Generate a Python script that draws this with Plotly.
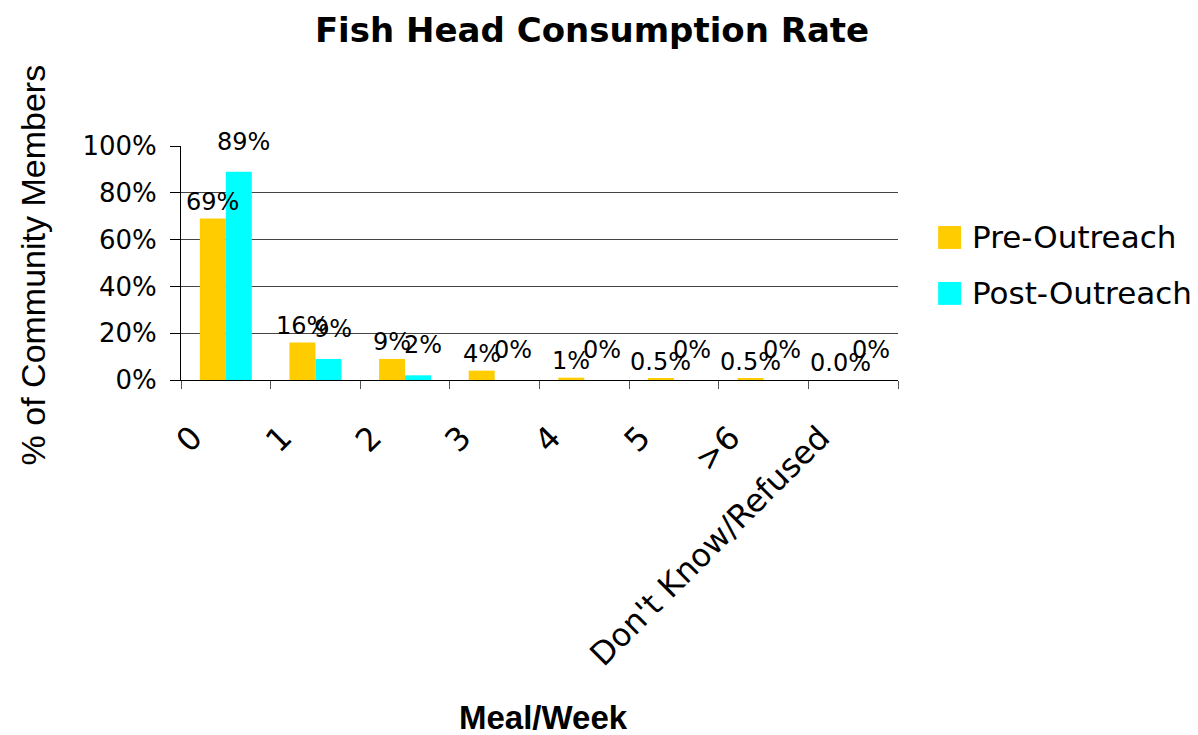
import plotly.graph_objects as go

# Données
categories = ["0", "1", "2", "3", "4", "5", ">6", "Don't Know/Refused"]
pre_vals = [0.69, 0.16, 0.09, 0.04, 0.01, 0.005, 0.005, 0.0]
post_vals = [0.89, 0.09, 0.02, 0.0, 0.0, 0.0, 0.0, 0.0]
pre_labels = ["69%", "16%", "9%", "4%", "1%", "0.5%", "0.5%", "0.0%"]
post_labels = ["89%", "9%", "2%", "0%", "0%", "0%", "0%", "0%"]
series_names = ["Pre-Outreach", "Post-Outreach"]
y_ticks = [0, 0.2, 0.4, 0.6, 0.8, 1.0]

GOLD = "#FFCC00"
CYAN = "#00FFFF"
FONT = "DejaVu Sans"

fig = go.Figure()
fig.add_trace(go.Bar(name=series_names[0], x=categories, y=pre_vals,
                     marker=dict(color=GOLD, line=dict(width=0))))
fig.add_trace(go.Bar(name=series_names[1], x=categories, y=post_vals,
                     marker=dict(color=CYAN, line=dict(width=0))))

# Étiquettes de valeurs (au-dessus des barres, façon Excel)
annots = []
for cat, v, t in zip(categories, pre_vals, pre_labels):
    annots.append(dict(x=cat, y=v, text=t, showarrow=False, xshift=-13, yshift=17,
                       yanchor="middle", font=dict(family=FONT, size=24, color="black")))
for cat, v, t in zip(categories, post_vals, post_labels):
    annots.append(dict(x=cat, y=v, text=t, showarrow=False, xshift=18, yshift=30,
                       yanchor="middle", font=dict(family=FONT, size=24, color="black")))

# Titres des axes
annots.append(dict(xref="paper", yref="paper", x=0.505, y=-1.444, text="<b>Meal/Week</b>",
                   showarrow=False, xanchor="center", yanchor="middle",
                   font=dict(family="Liberation Sans", size=33, color="black")))
annots.append(dict(xref="paper", yref="paper", x=-0.206, y=0.491, text="% of Community Members",
                   showarrow=False, xanchor="center", yanchor="middle", textangle=-90,
                   font=dict(family="Liberation Sans", size=34, color="black")))

# Légende dessinée à la main (la légende native pousse la marge à droite)
shapes = []
for nom, coul, y0, y1, yt in [(series_names[0], GOLD, 0.560, 0.658, 0.611),
                              (series_names[1], CYAN, 0.321, 0.419, 0.372)]:
    shapes.append(dict(type="rect", xref="paper", yref="paper", x0=1.056, x1=1.088,
                       y0=y0, y1=y1, fillcolor=coul, line=dict(width=0)))
    annots.append(dict(xref="paper", yref="paper", x=1.100, y=yt, text=nom, showarrow=False,
                       xanchor="left", yanchor="middle",
                       font=dict(family=FONT, size=31, color="black")))

fig.update_layout(
    width=1198, height=735,
    margin=dict(l=173, r=308, t=138, b=363),
    paper_bgcolor="white", plot_bgcolor="white",
    barmode="group", bargap=0.42, bargroupgap=0,
    title=dict(text="<b>Fish Head Consumption Rate</b>", x=0.4875, xanchor="center",
               y=0.970, yanchor="middle", font=dict(family=FONT, size=34, color="black")),
    font=dict(family=FONT, size=24, color="black"),
    showlegend=False,
    annotations=annots,
    shapes=shapes,
    xaxis=dict(
        type="category", tickangle=-45, ticks="outside", ticklen=8, tickcolor="#555",
        tickson="boundaries", showline=True, linecolor="black", linewidth=1,
        showgrid=False, tickfont=dict(family=FONT, size=32, color="black"),
        ticklabelstandoff=25, ticklabelshift=-33,
    ),
    yaxis=dict(
        range=[0, 1], tickvals=y_ticks, tickformat=".0%", ticks="outside", ticklen=10,
        tickcolor="black", showline=True, linecolor="black", linewidth=1,
        showgrid=True, gridcolor="#444", gridwidth=1, zeroline=False,
        tickfont=dict(family=FONT, size=26, color="black"), ticklabelstandoff=8,
    ),
)

fig.write_html("out.html")
